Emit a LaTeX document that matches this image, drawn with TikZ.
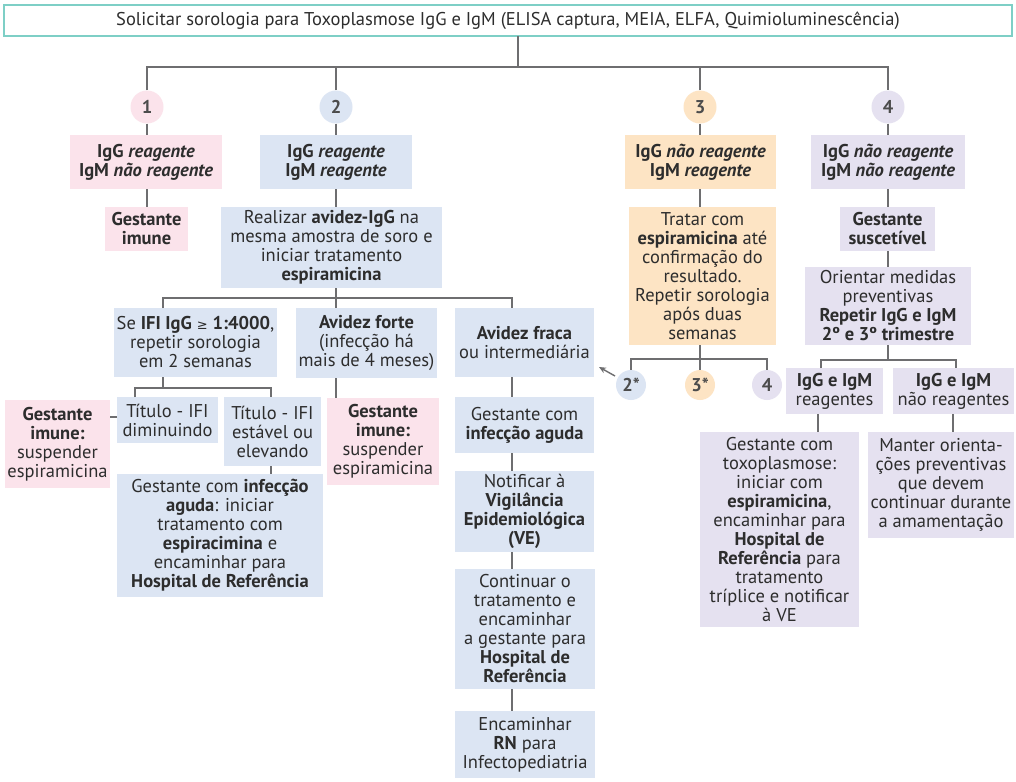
\documentclass[tikz,border=0pt]{standalone}
\usepackage{fontspec}
\setmainfont{PT Sans}
\newfontfamily\dv{DejaVu Sans}
\usetikzlibrary{arrows.meta}
\definecolor{pkc}{RGB}{251,227,235}
\definecolor{blc}{RGB}{220,229,243}
\definecolor{orc}{RGB}{253,228,196}
\definecolor{puc}{RGB}{229,225,240}
\definecolor{lnc}{RGB}{110,110,112}
\definecolor{txt}{RGB}{45,45,45}
\definecolor{tealc}{RGB}{126,207,198}
\newcommand{\fs}{\fontsize{18.5}{19}\selectfont}
\tikzset{
  bx/.style={rectangle, inner sep=0pt, outer sep=0pt, align=center, font=\fs, text=txt},
  cc/.style={circle, minimum size=33, inner sep=0pt, font=\fs\bfseries, text=txt!85},
  sc/.style={circle, minimum size=30, inner sep=0pt, font=\fs\bfseries, text=txt!85},
  ln/.style={draw=lnc, line width=2.6},
}
\begin{document}
\begin{tikzpicture}[x=1pt,y=-1pt]
\fill[white] (0,0) rectangle (1016,781);
\useasboundingbox (0,0) rectangle (1016,781);

% top
\node[bx, draw=tealc, line width=2, minimum width=1008, minimum height=31] (top) at (508,21)
  {Solicitar sorologia para Toxoplasmose IgG e IgM (ELISA captura, MEIA, ELFA, Quimioluminescência)};

% circles
\node[cc, fill=pkc] (c1) at (147,107) {1};
\node[cc, fill=blc] (c2) at (336,107) {2};
\node[cc, fill=orc] (c3) at (700,107) {3};
\node[cc, fill=puc] (c4) at (888,107) {4};

% level boxes
\node[bx, fill=pkc, minimum width=152, minimum height=54] (b1) at (146,162)
  {\bfseries IgG \itshape reagente\\\bfseries IgM \itshape não reagente};
\node[bx, fill=blc, minimum width=152, minimum height=54] (b2) at (336,162)
  {\bfseries IgG \itshape reagente\\\bfseries IgM \itshape reagente};
\node[bx, fill=orc, minimum width=151, minimum height=54] (b3) at (700.5,162)
  {\bfseries IgG \itshape não reagente\\\bfseries IgM \itshape reagente};
\node[bx, fill=puc, minimum width=154, minimum height=54] (b4) at (888,162)
  {\bfseries IgG \itshape não reagente\\\bfseries IgM \itshape não reagente};

\node[bx, fill=pkc, minimum width=83, minimum height=44] (b1g) at (146.5,229)
  {\textbf{Gestante}\\\textbf{imune}};
\node[bx, fill=blc, minimum width=221, minimum height=81] (b2r) at (331.5,247.5)
  {Realizar \textbf{avidez-IgG} na\\mesma amostra de soro e\\iniciar tratamento\\\textbf{espiramicina}};
\node[bx, fill=orc, minimum width=147, minimum height=138] (b3t) at (702.5,276)
  {Tratar com\\\textbf{espiramicina} até\\confirmação do\\resultado.\\Repetir sorologia\\após duas\\semanas};
\node[bx, fill=puc, minimum width=95, minimum height=44] (b4g) at (887.5,229)
  {\textbf{Gestante}\\\textbf{suscetível}};
\node[bx, fill=puc, minimum width=166, minimum height=78] (b4o) at (888,306)
  {Orientar medidas\\preventivas\\\textbf{Repetir IgG e IgM}\\\textbf{2º e 3º trimestre}};

% column 2 sub-branches
\node[bx, fill=blc, minimum width=163, minimum height=69] (ifi) at (195.5,342.5)
  {Se \textbf{IFI IgG} {\dv\fontsize{13}{19}\selectfont ≥} \textbf{1:4000},\\repetir sorologia\\em 2 semanas};
\node[bx, fill=blc, minimum width=141, minimum height=70] (af) at (366.5,343)
  {\textbf{Avidez forte}\\(infecção há\\mais de 4 meses)};
\node[bx, fill=blc, minimum width=139, minimum height=69] (fr) at (524.5,342.5)
  {\textbf{Avidez fraca}\\ou intermediária};

\node[bx, fill=blc, minimum width=101, minimum height=46] (tdim) at (167.5,420)
  {Título - IFI\\diminuindo};
\node[bx, fill=blc, minimum width=97, minimum height=69] (test) at (272.5,431.5)
  {Título - IFI\\estável ou\\elevando};
\node[bx, fill=pkc, minimum width=105, minimum height=88] (gim1) at (57.5,444)
  {\textbf{Gestante}\\\textbf{imune:}\\suspender\\espiramicina};
\node[bx, fill=blc, minimum width=206, minimum height=123] (gia1) at (220,535.5)
  {Gestante com \textbf{infecção}\\\textbf{aguda}: iniciar\\tratamento com\\\textbf{espiracimina} e\\encaminhar para\\\textbf{Hospital de Referência}};
\node[bx, fill=pkc, minimum width=112, minimum height=87] (gim2) at (383,441.5)
  {\textbf{Gestante}\\\textbf{imune:}\\suspender\\espiramicina};

% avidez fraca column
\node[bx, fill=blc, minimum width=139, minimum height=56] (gia2) at (524.5,425)
  {Gestante com\\\textbf{infecção aguda}};
\node[bx, fill=blc, minimum width=139, minimum height=81] (ntf) at (524.5,511.5)
  {Notificar à\\\textbf{Vigilância}\\\textbf{Epidemiológica}\\\textbf{(VE)}};
\node[bx, fill=blc, minimum width=140, minimum height=120] (cnt) at (525,629)
  {Continuar o\\tratamento e\\encaminhar\\a gestante para\\\textbf{Hospital de}\\\textbf{Referência}};
\node[bx, fill=blc, minimum width=140, minimum height=67] (rn) at (525,744.5)
  {Encaminhar\\\textbf{RN} para\\Infectopediatria};

% column 3 small circles
\node[sc, fill=blc] (s2) at (631,385) {2*};
\node[sc, fill=orc] (s3) at (700,385) {3*};
\node[sc, fill=puc] (s4) at (767,385) {4};

% column 4 sub-branches
\node[bx, fill=puc, minimum width=97, minimum height=46] (rg) at (834.5,391)
  {\textbf{IgG e IgM}\\reagentes};
\node[bx, fill=puc, minimum width=121, minimum height=46] (nrg) at (953.5,391)
  {\textbf{IgG e IgM}\\não reagentes};
\node[bx, fill=puc, minimum width=159, minimum height=195] (tox) at (779.5,529.5)
  {Gestante com\\toxoplasmose:\\iniciar com\\\textbf{espiramicina},\\encaminhar para\\\textbf{Hospital de}\\\textbf{Referência} para\\tratamento\\tríplice e notificar\\à VE};
\node[bx, fill=puc, minimum width=146, minimum height=106] (mnt) at (941,485)
  {Manter orienta-\\ções preventivas\\que devem\\continuar durante\\a amamentação};

% ---------- connectors
\coordinate (h) at (518,67);
\draw[ln] ([xshift=10]top.south) -- (h);
\draw[ln] (c1.north) -- (c1.north |- h) -- (c4.north |- h) -- (c4.north);
\draw[ln] (c2.north) -- (c2.north |- h);
\draw[ln] (c3.north) -- (c3.north |- h);

\draw[ln] (c1.south) -- (c1.south |- b1.north);
\draw[ln] (c2.south) -- (c2.south |- b2.north);
\draw[ln] (c3.south) -- (c3.south |- b3.north);
\draw[ln] (c4.south) -- (c4.south |- b4.north);

\draw[ln] (c1 |- b1.south) -- (c1 |- b1g.north);
\draw[ln] (c2 |- b2.south) -- (c2 |- b2r.north);
\draw[ln] (c3 |- b3.south) -- (c3 |- b3t.north);
\draw[ln] (c4 |- b4.south) -- (c4 |- b4g.north);
\draw[ln] (c4 |- b4g.south) -- (c4 |- b4o.north);

% column 2 split
\coordinate (h2) at (336,298);
\coordinate (k1) at (163,298);
\coordinate (k3) at (512,298);
\draw[ln] (c2 |- b2r.south) -- (h2);
\draw[ln] (k1 |- ifi.north) -- (k1) -- (k3) -- (k3 |- fr.north);
\draw[ln] (h2) -- (h2 |- af.north);

% IFI split
\coordinate (h3) at (163,388);
\draw[ln] (k1 |- ifi.south) -- (h3);
\draw[ln] (tdim.north -| 135,0) -- (135,388) -- (271,388) -- (test.north -| 271,0);
\draw[ln] ([yshift=3]tdim.west) -- ([yshift=3]tdim.west -| gim1.east);
\draw[ln] (test.south -| 271,0) -- (gia1.north -| 271,0);
\draw[ln] (h2 |- af.south) -- (h2 |- gim2.north);

% fraca column
\draw[ln] (k3 |- fr.south) -- (k3 |- gia2.north);
\draw[ln] (k3 |- gia2.south) -- (k3 |- ntf.north);
\draw[ln] (k3 |- ntf.south) -- (k3 |- cnt.north);
\draw[ln] (k3 |- cnt.south) -- (k3 |- rn.north);

% column 3 split
\coordinate (h4) at (700,359);
\draw[ln] (c3 |- b3t.south) -- (h4);
\draw[ln] (s2.north) -- (s2.north |- h4) -- (s4.north |- h4) -- (s4.north);
\draw[ln] (h4) -- (s3.north);
\draw[draw=lnc, line width=1.4, -{Stealth[length=7pt,width=6pt]}] (615,376) -- ([xshift=5,yshift=10]fr.south east);

% column 4 split
\coordinate (h5) at (888,360);
\draw[ln] (c4 |- b4o.south) -- (h5);
\draw[ln] (rg.north -| 821,0) -- (821,360) -- (956,360) -- (nrg.north -| 956,0);
\draw[ln] (rg.south -| 818,0) -- (tox.north -| 818,0);
\draw[ln] (nrg.south -| 953,0) -- (mnt.north -| 953,0);
\end{tikzpicture}
\end{document}
